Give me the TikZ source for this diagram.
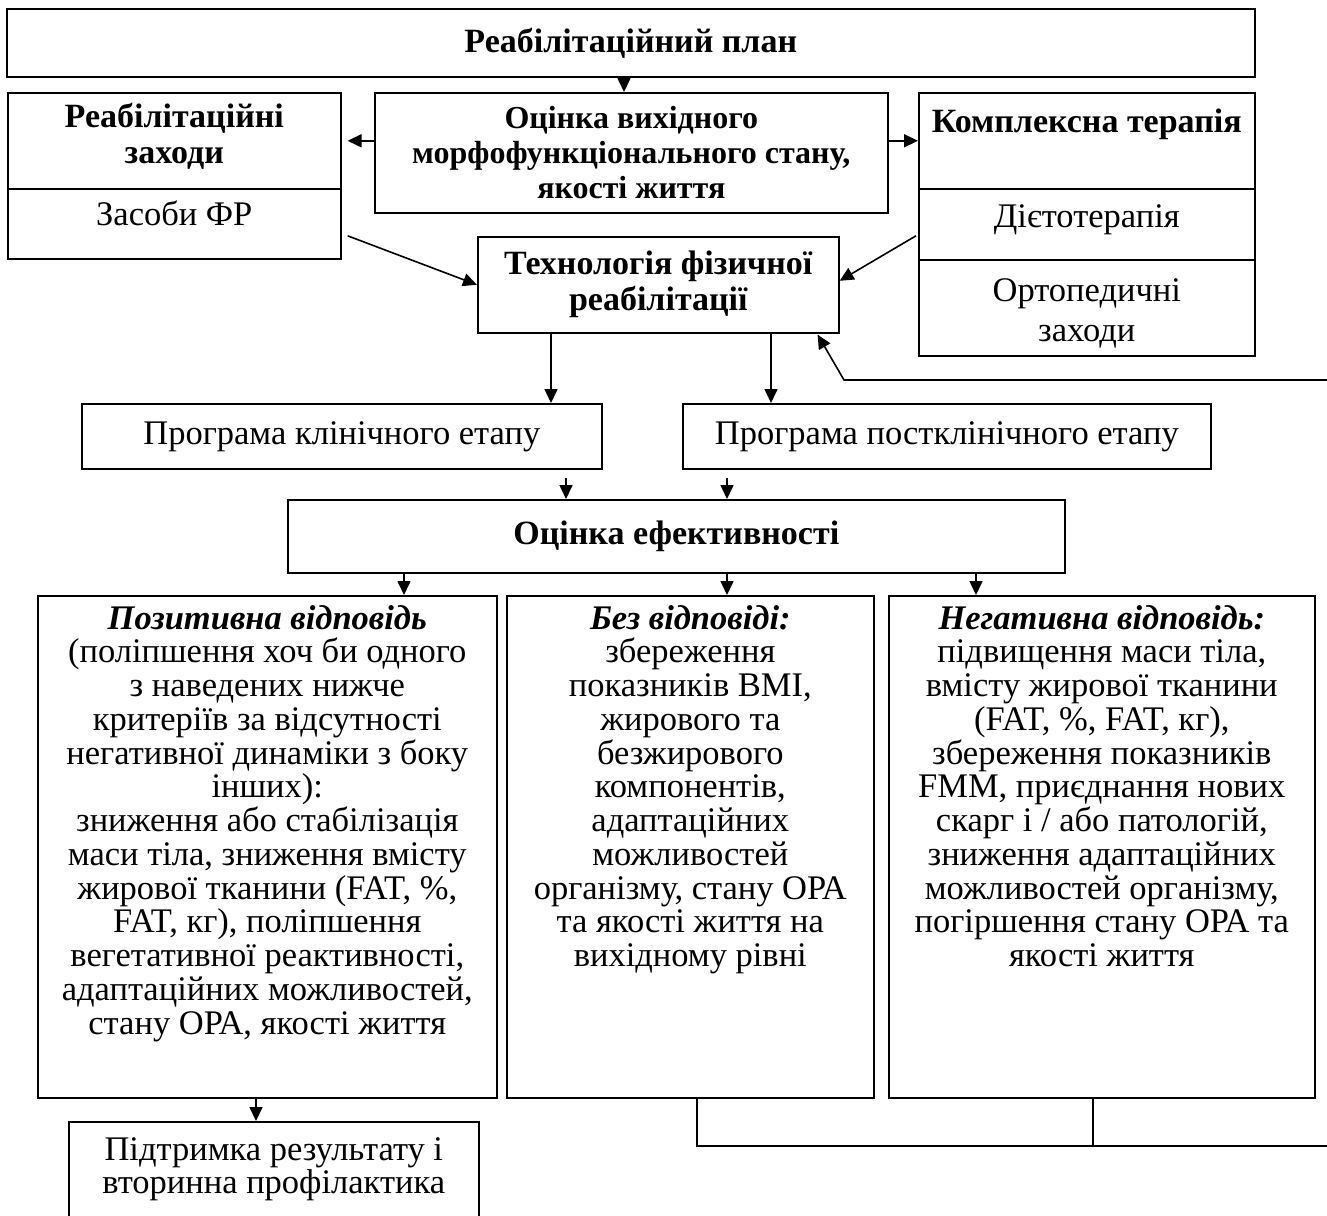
\documentclass[tikz,border=0pt]{standalone}
\usepackage{fontspec}
\setmainfont{Liberation Serif}
\usetikzlibrary{arrows.meta,calc}
\begin{document}
\begin{tikzpicture}[x=1pt,y=-1pt,
  box/.style={draw, line width=1.6pt, rectangle, inner sep=0pt, anchor=north west},
  T/.style={font=\fontsize{34.5}{33.75}\selectfont, align=center, inner sep=0pt},
  B/.style={align=center, inner sep=0pt, font=\fontsize{34}{36}\selectfont\bfseries},
  topt/.style={anchor=north, execute at begin node={\rule{0pt}{24pt}}},
  arr/.style={line width=1.6pt, -{Triangle[length=14pt,width=13pt]}},
  ln/.style={line width=1.6pt}]
\useasboundingbox (0,0) rectangle (1327,1215);

% boxes
\node[box,B,minimum width=1248,minimum height=68] (plan) at (6,8) {Реабілітаційний план};
\node[box,minimum width=333,minimum height=96] (rz) at (7,92) {};
\node[B,topt] (rzt) at ($(rz.north)+(0,11)$) {Реабілітаційні\\заходи};
\node[box,minimum width=333,minimum height=70] (rzb) at (7,188) {};
\node[T,topt] (rzbt) at ($(rzb.north)+(0,13)$) {Засоби ФР};
\node[box,B,font=\fontsize{32}{35}\selectfont\bfseries,minimum width=513,minimum height=120] (ocv) at (374,92) {Оцінка вихідного\\морфофункціонального стану,\\якості життя};
\node[box,minimum width=336,minimum height=96] (kt) at (918,92) {};
\node[B,topt] (ktt) at ($(kt.north)+(0,16)$) {Комплексна терапія};
\node[box,minimum width=336,minimum height=71] (kt2) at (918,188) {};
\node[T,topt] (kt2t) at ($(kt2.north)+(0,15)$) {Дієтотерапія};
\node[box,minimum width=336,minimum height=96] (kt3) at (918,259) {};
\node[T,topt,font=\fontsize{34.5}{40}\selectfont] (kt3t) at ($(kt3.north)+(0,19)$) {Ортопедичні\\заходи};
\node[box,B,minimum width=361,minimum height=96] (tech) at (477,236) {Технологія фізичної\\реабілітації};
\node[box,T,minimum width=520,minimum height=65] (pk) at (81,403) {Програма клінічного етапу};
\node[box,T,minimum width=528,minimum height=65] (ppk) at (682,403) {Програма постклінічного етапу};
\node[box,B,minimum width=777,minimum height=73] (oe) at (287,499) {Оцінка ефективності};

\node[box,minimum width=459,minimum height=502] (pos) at (37,595) {};
\node[T,topt] (post) at ($(pos.north)+(0,10)$) {{\bfseries\itshape Позитивна відповідь}\\(поліпшення хоч би одного\\з наведених нижче\\критеріїв за відсутності\\негативної динаміки з боку\\інших):\\зниження або стабілізація\\маси тіла, зниження вмісту\\жирової тканини (FAT, \%,\\FAT, кг), поліпшення\\вегетативної реактивності,\\адаптаційних можливостей,\\стану ОРА, якості життя};

\node[box,minimum width=367,minimum height=502] (nores) at (506,595) {};
\node[T,topt] (norest) at ($(nores.north)+(0,10)$) {{\bfseries\itshape Без відповіді:}\\збереження\\показників BMI,\\жирового та\\безжирового\\компонентів,\\адаптаційних\\можливостей\\організму, стану ОРА\\та якості життя на\\вихідному рівні};

\node[box,minimum width=426,minimum height=502] (neg) at (888,595) {};
\node[T,topt] (negt) at ($(neg.north)+(0,10)$) {{\bfseries\itshape Негативна відповідь:}\\підвищення маси тіла,\\вмісту жирової тканини\\(FAT, \%, FAT, кг),\\збереження показників\\FMM, приєднання нових\\скарг і / або патологій,\\зниження адаптаційних\\можливостей організму,\\погіршення стану ОРА та\\якості життя};

\node[box,minimum width=410,minimum height=110] (sup) at (68,1121) {};
\node[T,topt] (supt) at ($(sup.north)+(0,16)$) {Підтримка результату і\\вторинна профілактика};

% helper coordinates
\coordinate (x624) at (624,0);
\coordinate (x551) at (551,0);
\coordinate (x771) at (771,0);
\coordinate (x566) at (566,0);
\coordinate (x727) at (727,0);
\coordinate (x404) at (404,0);
\coordinate (x976) at (976,0);
\coordinate (x256) at (256,0);
\coordinate (x697) at (697,0);
\coordinate (x1093) at (1093,0);
\coordinate (yb) at (0,1146);
\coordinate (fb1) at (1340,1146);
\coordinate (fb2) at (1340,380);
\coordinate (fb3) at (844,380);

% connectors
\draw[arr] (x624 |- plan.south) -- (x624 |- ocv.north);
\draw[arr] (ocv.west |- rz.east) -- ($(rz.east)+(6,0)$);
\draw[arr] (ocv.east |- kt.west) -- (kt.west);
\draw[arr] ($(rzb.east)+(6,12)$) -- (tech.west);
\draw[arr] ($(kt2.west)+(-2,11.5)$) -- ($(tech.east)+(0,-4)$);
\draw[arr] (x551 |- tech.south) -- (x551 |- pk.north);
\draw[arr] (x771 |- tech.south) -- (x771 |- ppk.north);
\draw[arr] ($(x566 |- pk.south)+(0,8)$) -- (x566 |- oe.north);
\draw[arr] ($(x727 |- ppk.south)+(0,8)$) -- (x727 |- oe.north);
\draw[arr] (x404 |- oe.south) -- (x404 |- pos.north);
\draw[arr] (x727 |- oe.south) -- (x727 |- nores.north);
\draw[arr] (x976 |- oe.south) -- (x976 |- neg.north);
\draw[arr] (x256 |- pos.south) -- (x256 |- sup.north);
\draw[ln] (x1093 |- neg.south) -- (x1093 |- yb);
\draw[arr] (x697 |- nores.south) -- (x697 |- yb) -- (fb1) -- (fb2) -- (fb3) -- ($(tech.south east)+(-22,1)$);
\end{tikzpicture}
\end{document}
